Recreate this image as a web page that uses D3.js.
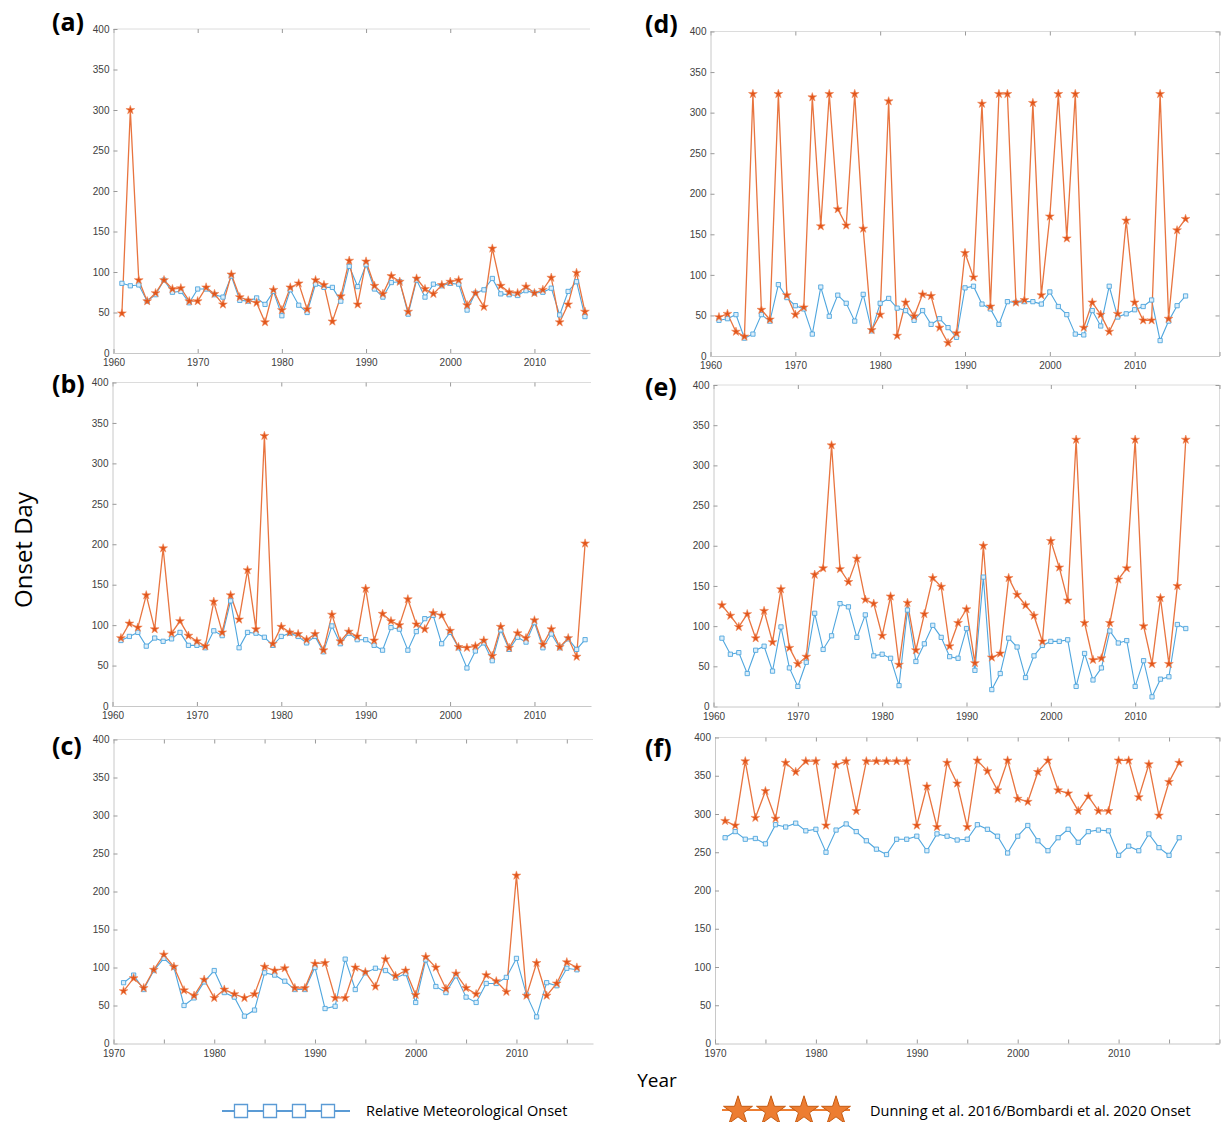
<!DOCTYPE html>
<html lang="en">
<head>
<meta charset="UTF-8">
<title>Onset Day</title>
<script src="https://cdn.jsdelivr.net/npm/d3@7"></script>
<style>
  body { margin: 0; background: #fff; }
  svg { font-family: "Open Sans", "Liberation Sans", sans-serif; }
  .tick text { fill: #404040; font-size: 10px; }
  .tick line { stroke: #9a9a9a; }
  .domain { stroke: #c8c8c8; }
  .rel { fill: none; stroke: #4fa6de; stroke-width: 1.1; }
  .dun { fill: none; stroke: #e8743f; stroke-width: 1.3; }
  .sq { fill: #dceefa; stroke: #4fa6de; stroke-width: 0.9; }
  .star { fill: #e2561b; stroke: #f08a5d; stroke-width: 0.6; }
  .plabel { font-weight: bold; font-size: 25px; fill: #000; }
</style>
</head>
<body>
<script>
var width = 1221, height = 1122;

// years
var years60 = d3.range(1961, 2017);
var years70 = d3.range(1971, 2017);
var yTicks = d3.range(0, 401, 50);

// (a)
var relA = [86,83,84,64,72,90,75,76,62,79,79,72,69,95,65,64,68,60,76,46,78,59,50,85,81,81,64,107,82,109,79,69,87,88,48,90,69,85,83,86,85,53,74,78,92,73,72,71,77,74,75,80,47,76,88,45];
var dunA = [49,300,90,64,74,90,79,80,64,64,81,73,60,97,69,65,62,38,78,53,81,86,54,90,84,39,70,114,60,113,83,73,95,88,51,92,79,73,84,88,90,59,74,57,129,83,75,74,82,74,78,93,38,60,99,51];
// (b)
var relB = [81,86,91,74,84,80,83,91,75,75,72,93,87,130,72,91,90,85,75,86,90,86,78,86,67,99,77,90,82,82,75,69,97,95,69,92,108,112,77,91,72,47,68,78,56,94,70,85,79,103,72,89,72,83,70,82];
var dunB = [84,102,97,137,95,195,90,105,87,80,74,129,91,137,107,168,95,334,77,98,91,89,82,89,69,113,80,92,86,145,81,114,105,100,132,101,95,115,112,93,73,72,74,81,62,98,72,90,84,106,76,95,73,84,61,201];
// (c)
var relC = [80,90,71,96,112,100,50,60,81,96,67,61,36,44,93,90,82,71,71,100,46,49,111,71,93,99,96,86,92,54,110,75,67,89,61,54,79,79,87,112,64,35,80,76,99,97];
var dunC = [69,86,73,97,117,101,70,63,84,60,71,65,60,65,101,96,99,73,73,105,106,60,60,100,94,75,111,89,96,64,114,100,72,92,73,65,90,82,68,221,63,106,63,79,107,100];
// (d)
var relD = [44,46,51,22,27,51,43,88,72,62,58,27,85,49,75,65,43,76,31,65,71,59,56,44,56,39,46,35,23,84,86,64,58,39,67,66,67,67,64,79,61,51,27,26,56,37,86,48,52,57,61,69,19,43,62,74];
var dunD = [48,52,30,24,323,57,45,323,75,51,60,319,160,323,181,161,323,157,32,51,314,25,66,49,76,74,35,16,28,127,97,311,61,323,323,66,69,312,75,172,323,145,323,35,66,51,30,52,167,66,44,44,323,46,155,169];
// (e)
var relE = [85,65,67,41,70,75,44,99,48,25,55,116,71,88,128,124,86,114,63,65,60,26,120,56,78,101,86,62,60,97,45,161,21,41,85,74,36,63,76,81,81,83,25,66,33,48,94,79,82,25,57,12,34,37,102,97];
var dunE = [126,113,99,115,85,119,80,146,73,53,62,164,172,325,171,155,184,133,128,88,137,52,129,70,115,160,149,75,104,121,54,200,61,66,160,139,126,113,81,206,173,132,332,104,58,60,104,158,172,332,100,53,135,53,150,332];
// (f)
var relF = [269,277,267,268,261,286,283,288,278,280,250,279,287,277,265,254,247,267,267,271,252,274,271,266,267,286,280,271,249,271,285,265,252,269,280,263,277,279,278,246,258,252,274,256,246,269];
var dunF = [291,285,369,295,330,294,367,355,369,369,285,364,369,304,369,369,369,369,369,285,336,283,367,340,283,370,356,331,370,320,316,355,370,331,327,304,323,304,304,370,370,322,365,298,342,367];

var panels = [
  { label: "(a)", lx: 52, ly: 31, years: years60, rel: relA, dun: dunA, xdom: [1960, 2016.6], left: 113.5, right: 590, top: 29, bottom: 353, step: 10, box: false },
  { label: "(b)", lx: 52, ly: 393, years: years60, rel: relB, dun: dunB, xdom: [1960, 2016.7], left: 112.5, right: 591, top: 382.5, bottom: 706, step: 10, box: false },
  { label: "(c)", lx: 52, ly: 755, years: years70, rel: relC, dun: dunC, xdom: [1970, 2017.6], left: 113.5, right: 593, top: 739.5, bottom: 1043.5, step: 5, box: false },
  { label: "(d)", lx: 645, ly: 33, years: years60, rel: relD, dun: dunD, xdom: [1960, 2020], left: 710.5, right: 1219.5, top: 31.5, bottom: 356, step: 10, box: true },
  { label: "(e)", lx: 645, ly: 396, years: years60, rel: relE, dun: dunE, xdom: [1960, 2020], left: 713.5, right: 1219.5, top: 385, bottom: 706.5, step: 10, box: true },
  { label: "(f)", lx: 645, ly: 757, years: years70, rel: relF, dun: dunF, xdom: [1970, 2020], left: 715, right: 1219.5, top: 737.5, bottom: 1043.5, step: 5, box: true }
];

var svg = d3.select("body").append("svg").attr("width", width).attr("height", height);

var star = d3.symbol().type(d3.symbolStar).size(24);
var square = d3.symbol().type(d3.symbolSquare).size(18);

panels.forEach(function(p) {
  var x = d3.scaleLinear().domain(p.xdom).range([p.left, p.right]);
  var y = d3.scaleLinear().domain([0, 400]).range([p.bottom, p.top]);
  var g = svg.append("g");
  var xt = d3.range(p.xdom[0], p.xdom[1] + 0.01, p.step);

  // top and right border
  g.append("line").attr("x1", p.left).attr("x2", p.right).attr("y1", p.top).attr("y2", p.top)
    .attr("stroke", "#dcdcdc");
  if (p.box) {
    g.append("line").attr("x1", p.right).attr("x2", p.right).attr("y1", p.top).attr("y2", p.bottom)
      .attr("stroke", "#dcdcdc");
    g.append("g").attr("transform", "translate(" + p.right + ",0)")
      .call(d3.axisRight(y).tickValues(yTicks).tickSize(-4).tickSizeOuter(0).tickFormat(""))
      .select(".domain").remove();
  }
  g.append("g").attr("transform", "translate(0," + p.top + ")")
    .call(d3.axisTop(x).tickValues(xt).tickSize(-4).tickSizeOuter(0).tickFormat(""))
    .select(".domain").remove();

  g.append("g").attr("transform", "translate(" + p.left + ",0)")
    .call(d3.axisLeft(y).tickValues(yTicks).tickSize(-4).tickSizeOuter(0).tickPadding(4));
  // the right-hand 2020 label lies past the picture edge
  g.append("g").attr("transform", "translate(0," + p.bottom + ")")
    .call(d3.axisBottom(x).tickValues(xt).tickSize(-4).tickSizeOuter(0).tickPadding(6)
      .tickFormat(function(d) { return d % 10 === 0 && d < 2020 ? d : ""; }));

  var relPts = p.years.map(function(d, i) { return [d, p.rel[i]]; });
  var dunPts = p.years.map(function(d, i) { return [d, p.dun[i]]; });
  var line = d3.line().x(function(d) { return x(d[0]); }).y(function(d) { return y(d[1]); });

  g.append("path").attr("class", "rel").attr("d", line(relPts));
  g.append("path").attr("class", "dun").attr("d", line(dunPts));

  g.selectAll("path.sq").data(relPts).enter().append("path").attr("class", "sq")
    .attr("d", square)
    .attr("transform", function(d) { return "translate(" + x(d[0]) + "," + y(d[1]) + ")"; });
  g.selectAll("path.star").data(dunPts).enter().append("path").attr("class", "star")
    .attr("d", star)
    .attr("transform", function(d) { return "translate(" + x(d[0]) + "," + y(d[1]) + ")"; });

  svg.append("text").attr("class", "plabel").attr("x", p.lx).attr("y", p.ly).text(p.label);
});

// axis titles
svg.append("text").attr("transform", "translate(32,550) rotate(-90)")
  .attr("text-anchor", "middle").style("font-size", "24px").text("Onset Day");
svg.append("text").attr("x", 657).attr("y", 1087)
  .attr("text-anchor", "middle").style("font-size", "19px").text("Year");

// legend
var leg = svg.append("g");
leg.append("line").attr("x1", 222).attr("x2", 350).attr("y1", 1111).attr("y2", 1111)
  .attr("stroke", "#5b9bd5").attr("stroke-width", 2);
[241, 270, 299, 328].forEach(function(cx) {
  leg.append("path").attr("d", d3.symbol().type(d3.symbolSquare).size(170)())
    .attr("transform", "translate(" + cx + ",1111)")
    .attr("fill", "#fff").attr("stroke", "#5b9bd5").attr("stroke-width", 1.3);
});
leg.append("text").attr("x", 366).attr("y", 1116).style("font-size", "14.5px").text("Relative Meteorological Onset");

leg.append("line").attr("x1", 722).attr("x2", 850).attr("y1", 1110).attr("y2", 1110)
  .attr("stroke", "#ed7d31").attr("stroke-width", 2);
[738, 771, 804, 836].forEach(function(cx) {
  leg.append("path").attr("d", d3.symbol().type(d3.symbolStar).size(260)())
    .attr("transform", "translate(" + cx + ",1111)")
    .attr("fill", "#ed7d31").attr("stroke", "#c55a11").attr("stroke-width", 1);
});
leg.append("text").attr("x", 870).attr("y", 1116).style("font-size", "14.5px").text("Dunning et al. 2016/Bombardi et al. 2020 Onset");
</script>
</body>
</html>
